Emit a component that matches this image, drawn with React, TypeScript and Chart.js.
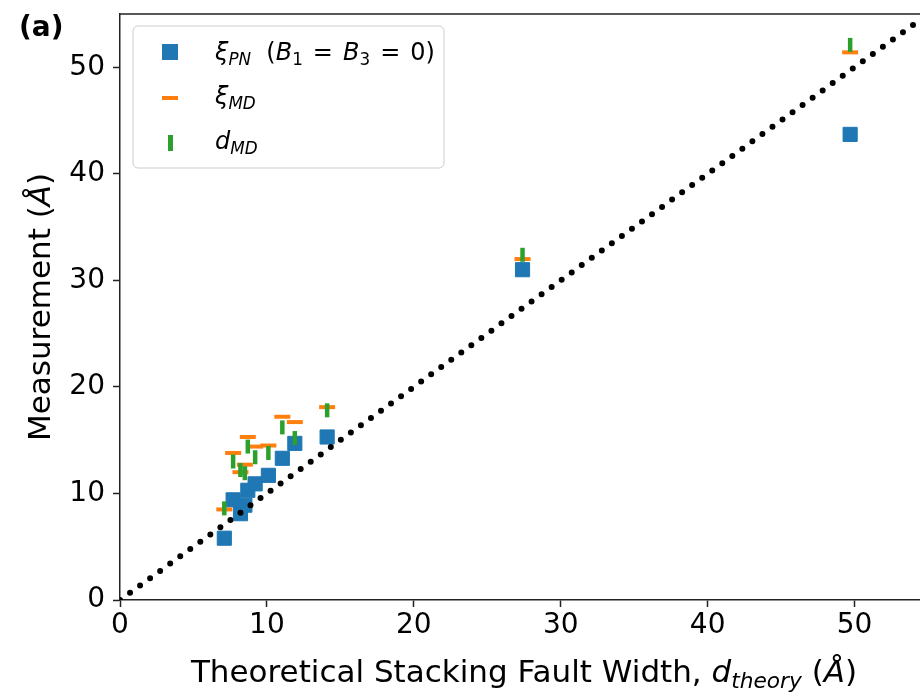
import React, { useEffect, useRef } from "react";
import { Chart, registerables } from "chart.js";

Chart.register(...registerables);

// Theoretical stacking fault width (Å)
const theoryWidth = [7.1, 7.7, 8.2, 8.5, 8.7, 9.2, 10.1, 11.05, 11.9, 14.1, 27.4, 49.7];
// ξ_PN (B1 = B3 = 0)
const xiPN = [5.8, 9.4, 8.1, 8.9, 10.3, 10.9, 11.7, 13.3, 14.7, 15.3, 31.0, 43.7];
// ξ_MD
const xiMD = [8.5, 13.8, 12.0, 12.7, 15.3, 14.4, 14.5, 17.2, 16.7, 18.1, 32.0, 51.4];
// d_MD
const dMD = [8.6, 13.0, 12.2, 11.9, 14.4, 13.4, 13.8, 16.2, 15.2, 17.8, 32.4, 52.1];
// y = x reference line
const refLine = [0, 60];
const axisMin = 0;
const axisMax = 55;
const tickStep = 10;

const FONT = "'DejaVu Sans', sans-serif";

type Run = { t: string; it?: boolean; sub?: boolean; bold?: boolean };

function fontFor(r: Run, size: number) {
  const s = r.sub ? size * 0.7 : size;
  return `${r.it ? "italic " : ""}${r.bold ? "bold " : ""}${s}px ${FONT}`;
}

function runsWidth(ctx: CanvasRenderingContext2D, runs: Run[], size: number) {
  let w = 0;
  for (const r of runs) {
    ctx.font = fontFor(r, size);
    w += ctx.measureText(r.t).width;
  }
  return w;
}

function drawRuns(
  ctx: CanvasRenderingContext2D,
  runs: Run[],
  x: number,
  y: number,
  size: number,
  align: "left" | "center" = "left"
) {
  let cx = x;
  if (align === "center") cx = x - runsWidth(ctx, runs, size) / 2;
  ctx.textAlign = "left";
  ctx.textBaseline = "alphabetic";
  for (const r of runs) {
    ctx.font = fontFor(r, size);
    ctx.fillText(r.t, cx, r.sub ? y + size * 0.2 : y);
    cx += ctx.measureText(r.t).width;
  }
}

const decorPlugin = {
  id: "decor",
  afterDatasetsDraw(chart: any) {
    const ctx: CanvasRenderingContext2D = chart.ctx;
    const a = chart.chartArea;
    ctx.save();
    // top and right spines
    ctx.strokeStyle = "#222";
    ctx.lineWidth = 1.5;
    ctx.beginPath();
    ctx.moveTo(a.left, a.top);
    ctx.lineTo(a.right, a.top);
    ctx.lineTo(a.right, a.bottom);
    ctx.stroke();

    ctx.fillStyle = "#000";
    // panel label
    drawRuns(ctx, [{ t: "(a)", bold: true }], 19, 36, 28);

    // x title
    drawRuns(
      ctx,
      [
        { t: "Theoretical Stacking Fault Width, " },
        { t: "d", it: true },
        { t: "theory", it: true, sub: true },
        { t: " (" },
        { t: "Å", it: true },
        { t: ")" },
      ],
      (a.left + a.right) / 2,
      682,
      31,
      "center"
    );

    // y title
    ctx.save();
    ctx.translate(50, (a.top + a.bottom) / 2);
    ctx.rotate(-Math.PI / 2);
    drawRuns(
      ctx,
      [{ t: "Measurement (" }, { t: "Å", it: true }, { t: ")" }],
      0,
      0,
      31,
      "center"
    );
    ctx.restore();

    // legend
    const lx = 133, ly = 26, lw = 311, lh = 142, rr = 5;
    ctx.beginPath();
    ctx.moveTo(lx + rr, ly);
    ctx.arcTo(lx + lw, ly, lx + lw, ly + lh, rr);
    ctx.arcTo(lx + lw, ly + lh, lx, ly + lh, rr);
    ctx.arcTo(lx, ly + lh, lx, ly, rr);
    ctx.arcTo(lx, ly, lx + lw, ly, rr);
    ctx.closePath();
    ctx.fillStyle = "rgba(255,255,255,0.8)";
    ctx.fill();
    ctx.strokeStyle = "#cccccc";
    ctx.lineWidth = 1;
    ctx.stroke();

    const mx = 170;
    const rows = [52, 98, 143];
    ctx.fillStyle = "#1f77b4";
    ctx.fillRect(mx - 8, rows[0] - 8, 16, 16);
    ctx.fillStyle = "#ff7f0e";
    ctx.fillRect(mx - 8, rows[1] - 2, 16, 4);
    ctx.fillStyle = "#2ca02c";
    ctx.fillRect(mx - 2, rows[2] - 8, 5, 16);

    ctx.fillStyle = "#000";
    const ls = 24;
    drawRuns(
      ctx,
      [
        { t: "ξ", it: true },
        { t: "PN", it: true, sub: true },
        { t: "  (" },
        { t: "B", it: true },
        { t: "1", sub: true },
        { t: " \u200A=\u200A " },
        { t: "B", it: true },
        { t: "3", sub: true },
        { t: " \u200A=\u200A 0)" },
      ],
      215,
      rows[0] + 8,
      ls
    );
    drawRuns(
      ctx,
      [
        { t: "ξ", it: true },
        { t: "MD", it: true, sub: true },
      ],
      215,
      rows[1] + 6,
      ls
    );
    drawRuns(
      ctx,
      [
        { t: "d", it: true },
        { t: "MD", it: true, sub: true },
      ],
      215,
      rows[2] + 6,
      ls
    );
    ctx.restore();
  },
};

export default function App() {
  const ref = useRef<HTMLCanvasElement | null>(null);

  useEffect(() => {
    const canvas = ref.current;
    if (!canvas) return;
    const pts = (ys: number[]) => theoryWidth.map((x, i) => ({ x, y: ys[i] }));
    const chart = new Chart(canvas, {
      type: "scatter",
      data: {
        datasets: [
          {
            type: "line",
            label: "y = x",
            data: refLine.map((v) => ({ x: v, y: v })),
            borderColor: "#000",
            borderWidth: 6,
            borderDash: [0, 12.4],
            borderCapStyle: "round",
            pointRadius: 0,
            fill: false,
          } as any,
          {
            label: "d_MD",
            data: pts(dMD),
            pointStyle: "line",
            rotation: 90,
            pointRadius: 7,
            borderWidth: 4.5,
            borderColor: "#2ca02c",
            backgroundColor: "#2ca02c",
          } as any,
          {
            label: "ξ_MD",
            data: pts(xiMD),
            pointStyle: "line",
            rotation: 0,
            pointRadius: 8,
            borderWidth: 4,
            borderColor: "#ff7f0e",
            backgroundColor: "#ff7f0e",
          } as any,
          {
            label: "ξ_PN",
            data: pts(xiPN),
            pointStyle: "rect",
            pointRadius: 10,
            borderWidth: 1,
            borderColor: "#1f77b4",
            backgroundColor: "#1f77b4",
          } as any,
        ],
      },
      options: {
        animation: false,
        responsive: false,
        devicePixelRatio: 1,
        layout: { padding: { top: 14, right: 4, left: 0, bottom: 0 } },
        plugins: {
          legend: { display: false },
          tooltip: { enabled: false },
        },
        scales: {
          x: {
            type: "linear",
            min: axisMin,
            max: axisMax,
            afterFit: (s: any) => {
              s.height = 96;
              s.paddingLeft = 0;
              s.paddingRight = 0;
            },
            ticks: {
              stepSize: tickStep,
              includeBounds: false,
              color: "#000",
              padding: 2,
              font: { family: FONT, size: 28 },
            },
            grid: {
              drawOnChartArea: false,
              drawTicks: true,
              tickLength: 7,
              tickWidth: 1.5,
              tickColor: "#222",
            },
            border: { display: true, color: "#222", width: 1.5 },
          },
          y: {
            type: "linear",
            min: axisMin,
            max: axisMax,
            afterFit: (s: any) => {
              s.width = 120;
              s.paddingTop = 0;
              s.paddingBottom = 0;
            },
            ticks: {
              stepSize: tickStep,
              includeBounds: false,
              color: "#000",
              padding: 8,
              font: { family: FONT, size: 28 },
            },
            grid: {
              drawOnChartArea: false,
              drawTicks: true,
              tickLength: 7,
              tickWidth: 1.5,
              tickColor: "#222",
            },
            border: { display: true, color: "#222", width: 1.5 },
          },
        },
      } as any,
      plugins: [decorPlugin],
    });
    return () => chart.destroy();
  }, []);

  return (
    <div
      style={{
        position: "absolute",
        left: 0,
        top: 0,
        width: 920,
        height: 696,
        overflow: "hidden",
        background: "#fff",
      }}
    >
      <canvas ref={ref} width={940} height={696} style={{ display: "block" }} />
    </div>
  );
}
